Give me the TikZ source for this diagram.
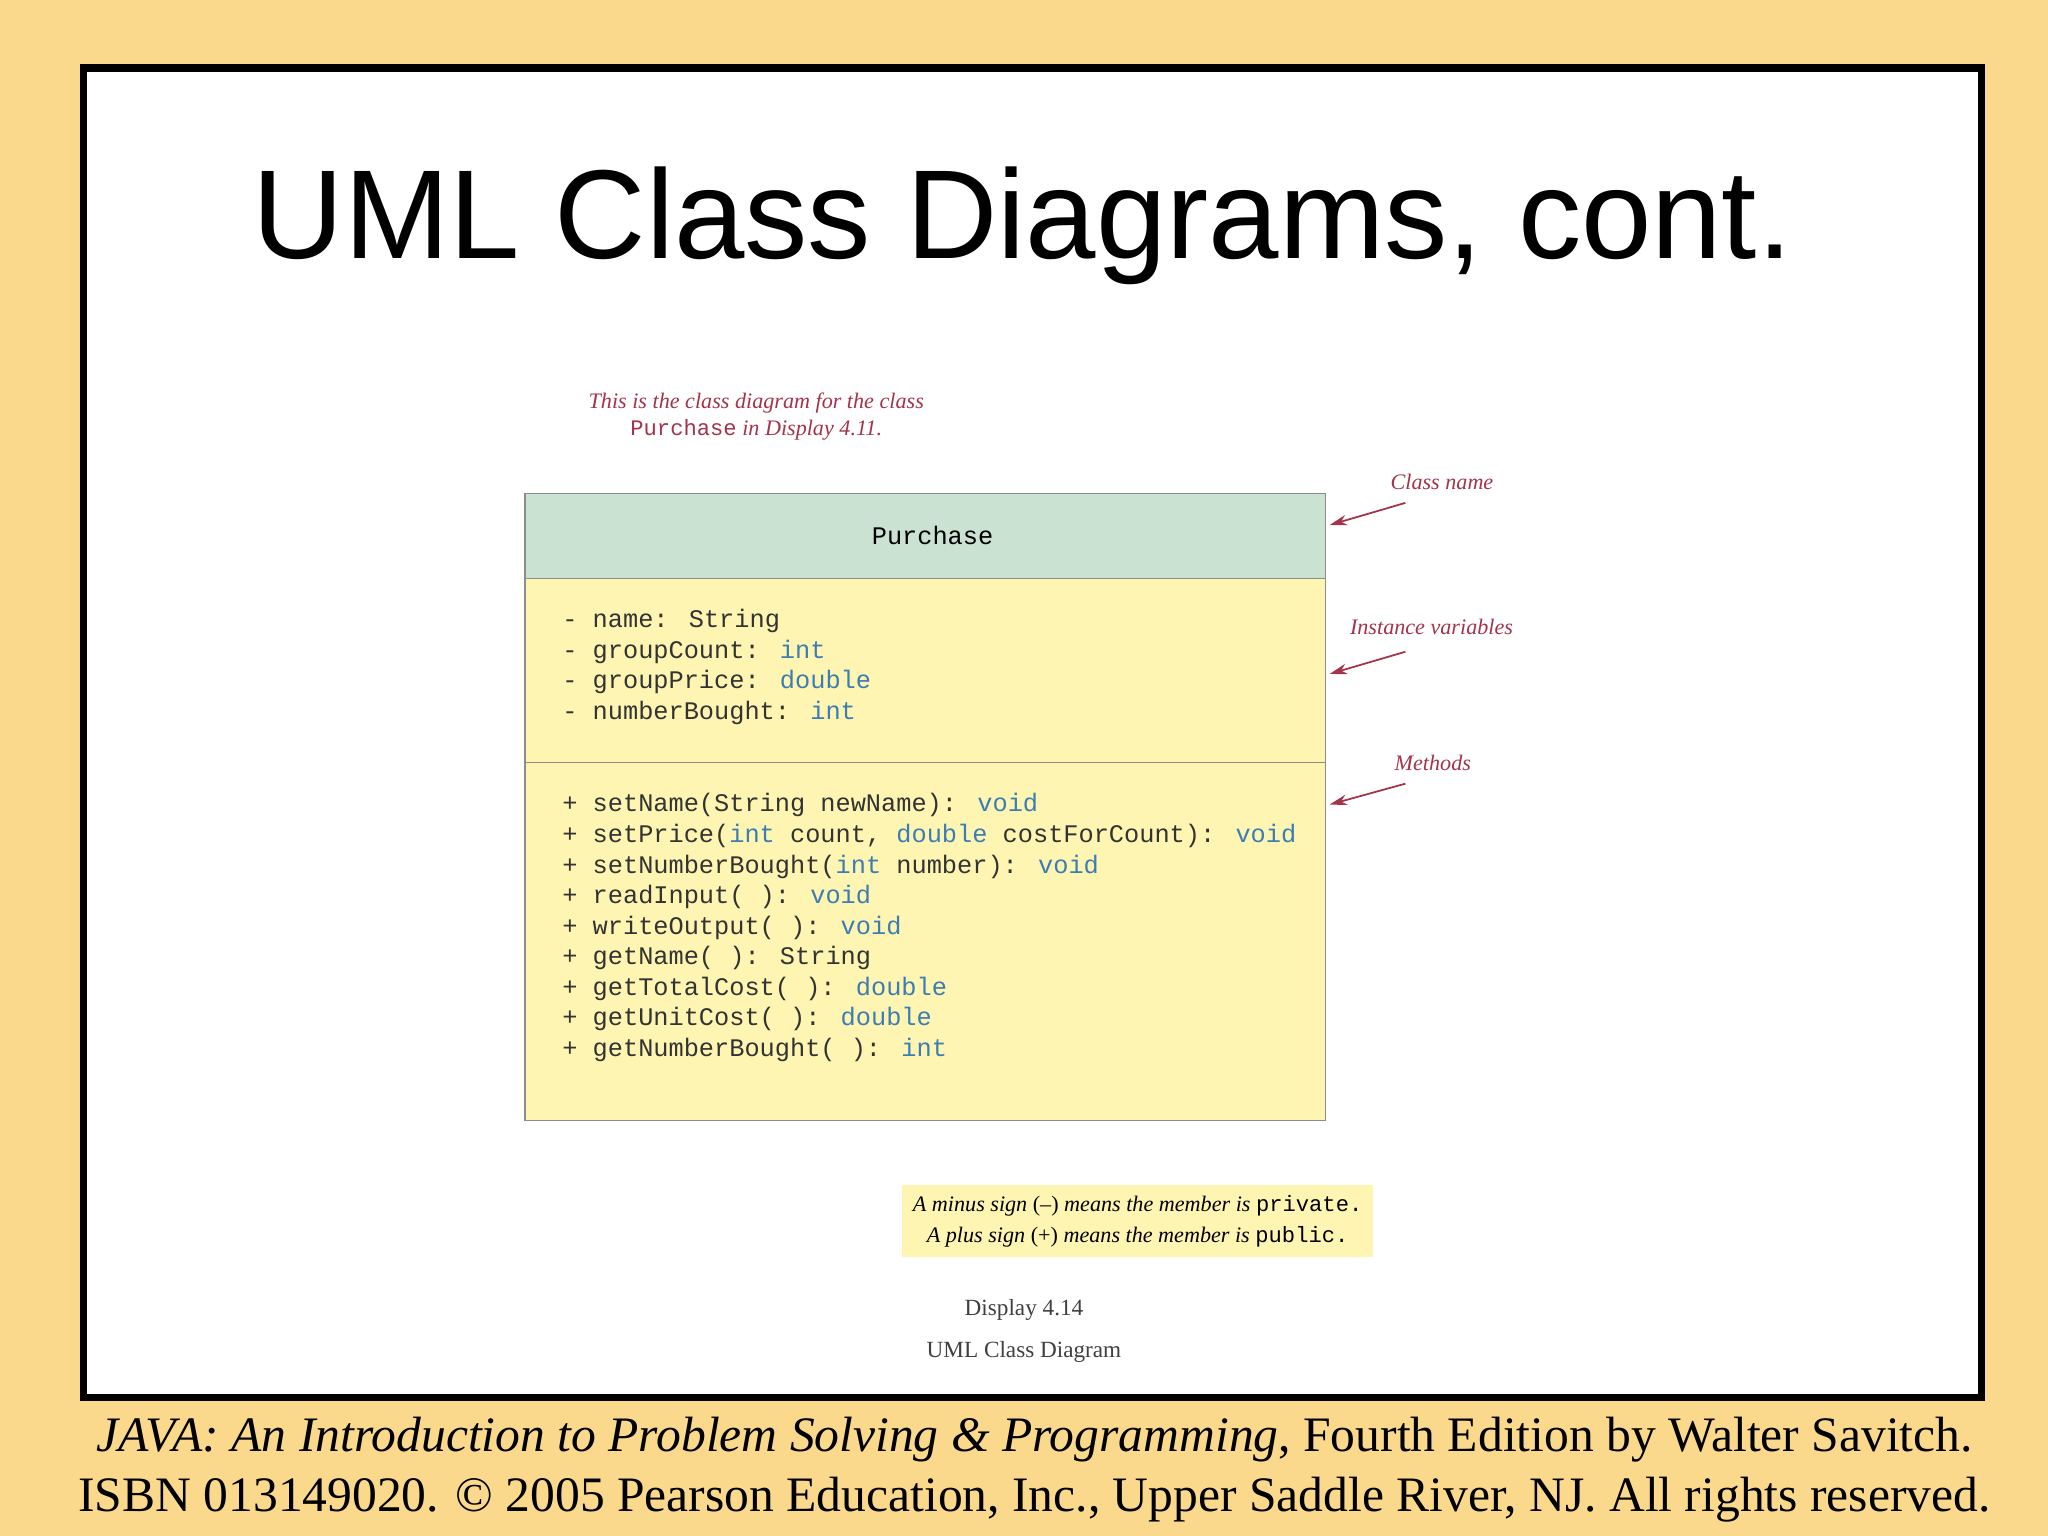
\documentclass[tikz,border=0pt]{standalone}
\usepackage{fontspec}
\setmainfont{Liberation Serif}
\newfontfamily\ttl{Liberation Sans}
\newfontfamily\mono{Liberation Mono}
\usetikzlibrary{arrows.meta}
\definecolor{bg}{HTML}{FAD88C}
\definecolor{hdr}{HTML}{C9E2D2}
\definecolor{bdy}{HTML}{FFF5B2}
\definecolor{kw}{HTML}{3C7DB4}
\definecolor{ann}{HTML}{A3344C}
\newcommand{\kw}[1]{\textcolor{kw}{#1}}
\tikzset{
 annot/.style={font=\fontsize{6.3}{7.5}\selectfont\itshape, text=ann, inner sep=0},
 arr/.style={draw=ann, line width=0.5pt, -{Stealth[length=5pt,width=3pt]}},
 mem/.style={font=\mono\fontsize{7.2}{8.7}\selectfont, text=black!80, align=left, anchor=north west, inner sep=0},
}
\begin{document}
\begin{tikzpicture}[x=0.013061cm,y=-0.013061cm]
\fill[bg] (0,0) rectangle (1568,1176);
\useasboundingbox (0,0) rectangle (1568,1176);
\draw[line width=2.2pt, fill=white] (64,52) rectangle (1517,1070);
\node (title) at (783,173) {\ttl\fontsize{36}{40}\selectfont UML Class Diagrams, cont.};
% class box
\draw[fill=hdr, draw=black!45] (402,378) rectangle (1015,443);
\draw[fill=bdy, draw=black!45] (402,443) rectangle (1015,858);
\draw[draw=black!45] (402,584) -- (1015,584);
\node (cname) at (714,410) {\mono\fontsize{7.2}{8}\selectfont Purchase};
\node[mem] (vars) at (430,466) {- name: String\\- groupCount: \kw{int}\\- groupPrice: \kw{double}\\- numberBought: \kw{int}};
\node[mem] (meths) at (430,607) {+ setName(String newName): \kw{void}\\+ setPrice(\kw{int} count, \kw{double} costForCount): \kw{void}\\+ setNumberBought(\kw{int} number): \kw{void}\\+ readInput( ): \kw{void}\\+ writeOutput( ): \kw{void}\\+ getName( ): String\\+ getTotalCost( ): \kw{double}\\+ getUnitCost( ): \kw{double}\\+ getNumberBought( ): \kw{int}};
% annotations
\node[annot, align=center] (top) at (579,319) {This is the class diagram for the class\\{\upshape\mono Purchase} in Display 4.11.};
\node[annot] (lcn) at (1104,369) {Class name};
\node[annot] (liv) at (1096,480) {Instance variables};
\node[annot] (lme) at (1097,584) {Methods};
\coordinate (a1) at (1076,385); \coordinate (b1) at (1018,402);
\coordinate (a2) at (1076,499); \coordinate (b2) at (1018,516);
\coordinate (a3) at (1076,600); \coordinate (b3) at (1018,616);
\draw[arr] (a1) -- (b1);
\draw[arr] (a2) -- (b2);
\draw[arr] (a3) -- (b3);
\node[fill=bdy, inner sep=3pt, align=center, font=\fontsize{6.3}{8.7}\selectfont] (note) at (871,935) {\textit{A minus sign} (--) \textit{means the member is} {\mono private.}\\\textit{A plus sign} (+) \textit{means the member is} {\mono public.}};
\node[font=\fontsize{6.6}{12}\selectfont, align=center, text=black!75] (disp) at (784,1019) {Display 4.14\\UML Class Diagram};
\node (f1) at (792,1102) {\resizebox{534pt}{!}{\textit{JAVA: An Introduction to Problem Solving \& Programming}, Fourth Edition by Walter Savitch.}};
\node (f2) at (792,1148) {\resizebox{544pt}{!}{ISBN 013149020. © 2005 Pearson Education, Inc., Upper Saddle River, NJ. All rights reserved.}};
\end{tikzpicture}
\end{document}
